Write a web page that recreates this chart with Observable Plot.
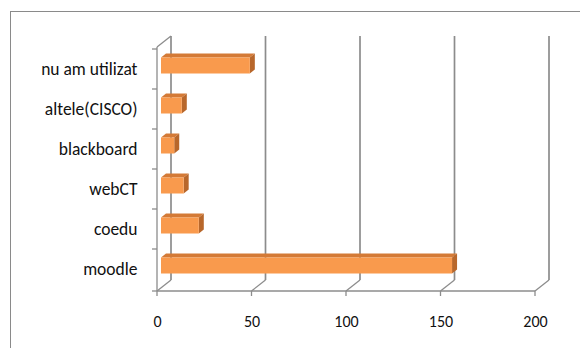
<!DOCTYPE html>
<html><head><meta charset="utf-8">
<script src="https://cdn.jsdelivr.net/npm/d3@7"></script>
<script src="https://cdn.jsdelivr.net/npm/@observablehq/plot@0.6"></script>
<style>
html,body{margin:0;padding:0;background:#fff;}
#chart{width:580px;height:348px;overflow:hidden;}
#chart svg g[aria-label="y-axis tick label"]{font-size:17.5px;}
#chart svg g[aria-label="x-axis tick label"]{font-size:16px;}
</style></head><body><div id="chart"></div>
<script>
const categories = ["nu am utilizat", "altele(CISCO)", "blackboard", "webCT", "coedu", "moodle"];
const values = [47, 11, 7, 12, 20, 154];
const xTicks = [0, 50, 100, 150, 200];

const data = categories.map((c, i) => ({platform: c, count: values[i]}));

const W = 580, H = 348;
const BACK = {dx: 14, dy: -11};
const BAR = {dx: 4, dy: -3.5, depthX: 5, depthY: -4, inset: 12};
const gray = "#8c8c8c";
const ns = "http://www.w3.org/2000/svg";

function mk(g, tag, attrs) {
  const e = document.createElementNS(ns, tag);
  for (const k in attrs) e.setAttribute(k, attrs[k]);
  g.appendChild(e);
  return e;
}

function walls(index, scales, vals, dims) {
  const x = scales.x, y = scales.y;
  const g = document.createElementNS(ns, "g");
  const top = dims.marginTop, bottom = dims.height - dims.marginBottom;
  const left = x(0), right = x(xTicks[xTicks.length - 1]);
  mk(g, "rect", {x: 10.5, y: 11.5, width: W, height: H, fill: "none", stroke: "#8a8a8a", "stroke-width": 1});
  for (const t of xTicks) {
    const xf = x(t);
    mk(g, "line", {x1: xf + BACK.dx, x2: xf + BACK.dx, y1: top + BACK.dy, y2: bottom + BACK.dy, stroke: gray, "stroke-width": 1.7});
    mk(g, "line", {x1: xf, x2: xf + BACK.dx, y1: bottom, y2: bottom + BACK.dy, stroke: gray, "stroke-width": 1.3});
    mk(g, "line", {x1: xf, x2: xf, y1: bottom, y2: bottom + 5, stroke: gray, "stroke-width": 1.3});
  }
  mk(g, "line", {x1: left, x2: left, y1: top, y2: bottom, stroke: gray, "stroke-width": 1.3});
  mk(g, "line", {x1: left, x2: left + BACK.dx, y1: top, y2: top + BACK.dy, stroke: gray, "stroke-width": 1.3});
  const bounds = categories.map(c => y(c)).concat([bottom]);
  for (const b of bounds) mk(g, "line", {x1: left - 5, x2: left, y1: b, y2: b, stroke: gray, "stroke-width": 1.3});
  mk(g, "line", {x1: left, x2: right, y1: bottom, y2: bottom, stroke: gray, "stroke-width": 1.3});
  return g;
}

function barFaces(index, scales) {
  const x = scales.x, y = scales.y;
  const bw = y.bandwidth ? y.bandwidth() : 40;
  const g = document.createElementNS(ns, "g");
  data.forEach(d => {
    const x0 = x(0) + BAR.dx, x1 = x(d.count) + BAR.dx;
    const yt = y(d.platform) + BAR.inset + BAR.dy;
    const yb = y(d.platform) + bw - BAR.inset + BAR.dy;
    const dX = BAR.depthX, dY = BAR.depthY;
    mk(g, "polygon", {points: `${x0},${yt} ${x1},${yt} ${x1 + dX},${yt + dY} ${x0 + dX},${yt + dY}`, fill: "#d47a36"});
    mk(g, "polygon", {points: `${x1},${yt} ${x1 + dX},${yt + dY} ${x1 + dX},${yb + dY} ${x1},${yb}`, fill: "#b8672b"});
  });
  return g;
}

const chart = Plot.plot({
  width: W,
  height: H,
  marginLeft: 157,
  marginRight: 45,
  marginTop: 47,
  marginBottom: 57,
  style: {fontFamily: "Carlito, Lato, 'Liberation Sans', sans-serif", fontSize: "16px", color: "#111", background: "#fff"},
  x: {domain: [0, 200], ticks: xTicks, tickSize: 0, tickPadding: 24, label: null},
  y: {domain: categories, padding: 0, tickSize: 0, tickPadding: 20, label: null},
  marks: [
    walls,
    barFaces,
    Plot.barX(data, {x: "count", y: "platform", fill: "#f99a4d", dx: BAR.dx, dy: BAR.dy, insetTop: BAR.inset, insetBottom: BAR.inset})
  ]
});
document.getElementById("chart").appendChild(chart);
</script>
</body></html>
